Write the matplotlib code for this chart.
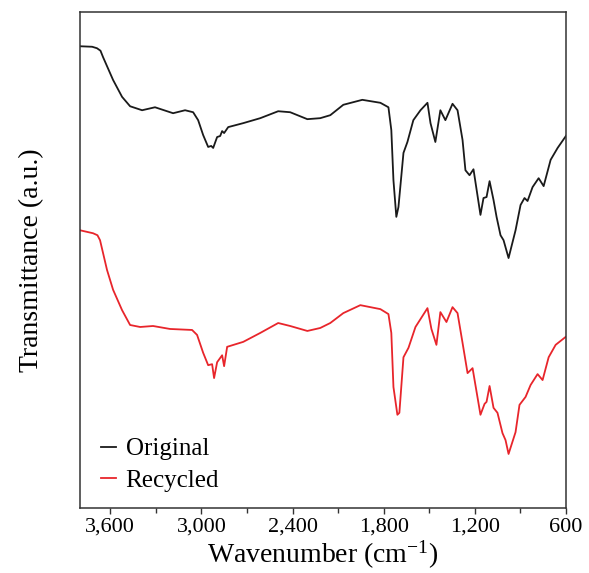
import matplotlib
matplotlib.use("Agg")
import matplotlib.pyplot as plt
from matplotlib.ticker import MultipleLocator, FuncFormatter

# FTIR spectra (wavenumber in cm-1, transmittance in a.u.)
wn_original = [3800, 3720, 3688, 3665, 3648, 3582, 3523, 3470, 3391, 3306, 3187, 3108,
               3055, 3022, 2989, 2956, 2936, 2923, 2897, 2877, 2864, 2851,
               2824, 2725, 2613, 2495, 2416, 2303, 2218, 2152, 2066, 1941,
               1822, 1769, 1750, 1736, 1717, 1703, 1670, 1644, 1605, 1558,
               1512, 1492, 1460, 1427, 1394, 1347, 1314, 1281, 1262, 1235,
               1209, 1163, 1143, 1123, 1103, 1077, 1057, 1031, 1011, 978,
               932, 899, 873, 853, 820, 780, 747, 701, 655, 596]
t_original = [93.1, 93.0, 92.7, 92.2, 90.9, 86.3, 82.9, 81.0, 80.2, 80.8, 79.6, 80.2,
              79.8, 78.2, 75.2, 72.8, 73.0, 72.6, 74.8, 75.0, 76.0, 75.6,
              76.8, 77.6, 78.6, 80.0, 79.8, 78.4, 78.6, 79.2, 81.3, 82.3,
              81.7, 80.8, 76.2, 66.1, 58.7, 60.7, 71.6, 73.8, 78.2, 80.2,
              81.7, 77.6, 73.8, 80.2, 78.2, 81.5, 80.2, 74.2, 68.1, 67.1,
              68.3, 59.1, 62.5, 62.7, 65.9, 62.1, 58.7, 55.0, 54.0, 50.4,
              56.0, 61.1, 62.5, 61.9, 64.7, 66.5, 64.9, 70.2, 72.6, 75.2]

wn_recycled = [3800, 3714, 3685, 3668, 3622, 3582, 3523, 3470, 3404, 3319, 3207,
               3062, 3029, 2989, 2956, 2930, 2917, 2897, 2864, 2851, 2831,
               2725, 2613, 2495, 2416, 2303, 2218, 2152, 2066, 1954, 1822,
               1769, 1750, 1736, 1710, 1697, 1670, 1637, 1591, 1512, 1486,
               1453, 1427, 1387, 1347, 1314, 1281, 1248, 1215, 1163, 1136,
               1123, 1103, 1077, 1051, 1018, 998, 978, 932, 906, 866,
               833, 787, 754, 714, 668, 602]
t_recycled = [56.0, 55.4, 55.0, 54.0, 48.0, 44.0, 39.9, 36.9, 36.5, 36.7, 36.1,
              35.9, 34.9, 31.3, 28.8, 29.0, 26.2, 29.4, 30.8, 28.6, 32.5,
              33.5, 35.3, 37.3, 36.7, 35.7, 36.3, 37.3, 39.3, 40.9, 40.1,
              39.1, 35.3, 24.4, 18.8, 19.2, 30.4, 32.3, 36.5, 40.3, 36.1,
              32.9, 39.5, 37.5, 40.5, 39.3, 33.3, 27.2, 28.2, 18.8, 21.0,
              21.4, 24.6, 20.2, 19.2, 15.1, 13.7, 10.9, 15.3, 20.8, 22.4,
              24.8, 27.0, 25.8, 30.4, 32.9, 34.5]

plt.rcParams['font.family'] = ['Liberation Serif', 'DejaVu Serif']
plt.rcParams['mathtext.fontset'] = 'stix'

fig = plt.figure(figsize=(5.89, 5.73), dpi=100)
ax = fig.add_axes([0.1358, 0.1134, 0.8251, 0.8656])

ax.plot(wn_original, t_original, color='#1a1a1a', linewidth=1.3, label='Original')
ax.plot(wn_recycled, t_recycled, color='#e8252b', linewidth=1.3, label='Recycled')

ax.set_xlim(3800, 600)
ax.set_ylim(0, 100)

ax.xaxis.set_major_locator(MultipleLocator(600))
ax.xaxis.set_minor_locator(MultipleLocator(300))
ax.xaxis.set_major_formatter(FuncFormatter(lambda v, p: f"{int(v):,}"))
ax.tick_params(axis='x', which='major', direction='out', length=4, width=1,
               labelsize=16, pad=3, color='#333333')
ax.tick_params(axis='x', which='minor', direction='out', length=3.5, width=1,
               color='#333333')
ax.set_yticks([])

for s in ax.spines.values():
    s.set_linewidth(1.1)
    s.set_color('#333333')

ax.set_xlabel('Wavenumber (cm$^{\\mathregular{-1}}$)', fontsize=20, labelpad=1)
ax.set_ylabel('Transmittance (a.u.)', fontsize=20, labelpad=26)

ax.legend(loc='lower left', bbox_to_anchor=(0.009, 0.0), frameon=False,
          fontsize=18, handlelength=0.6, handletextpad=0.4,
          labelspacing=0.36, borderaxespad=0.25)

fig.savefig('out.png', dpi=100)
